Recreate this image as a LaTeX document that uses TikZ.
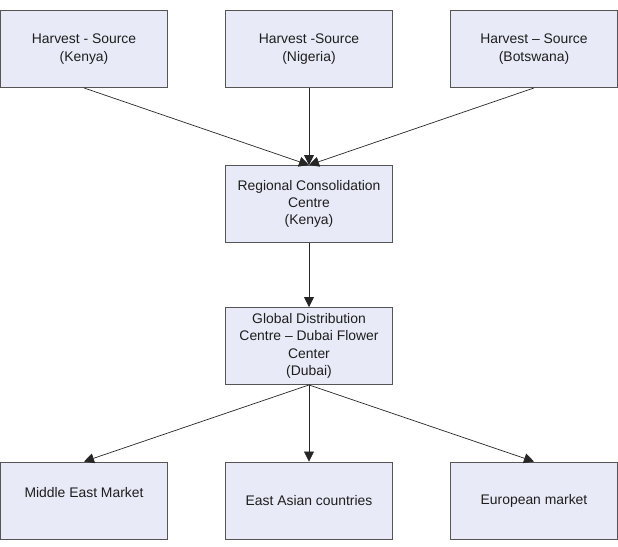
\documentclass[tikz,border=0pt]{standalone}
\usepackage{fontspec}
\setmainfont{Liberation Sans}
\usetikzlibrary{arrows.meta}
\definecolor{boxfill}{RGB}{232,235,247}
\definecolor{boxline}{RGB}{85,85,85}
\definecolor{txt}{RGB}{30,30,30}
\begin{document}
\begin{tikzpicture}[x=1pt,y=-1pt,
  box/.style={draw=boxline,fill=boxfill,line width=0.9pt,minimum width=167pt,minimum height=77pt,
    inner sep=0pt,align=center,text=txt,font=\fontsize{13.9}{17.3}\selectfont},
  arr/.style={-{Triangle[length=10pt,width=10pt]},line width=0.7pt,draw=black!85}]
\useasboundingbox (0,0) rectangle (618,546);
\node[box] (k) at (84,49) {Harvest - Source\\(Kenya)};
\node[box] (n) at (309,49) {Harvest -Source\\(Nigeria)};
\node[box] (b) at (534,49) {Harvest -- Source\\(Botswana)};
\node[box] (r) at (309,204) {Regional Consolidation\\Centre\\(Kenya)};
\node[box] (g) at (309,346) {Global Distribution\\Centre -- Dubai Flower\\Center\\(Dubai)};
\node[box] (m) at (84,500.5) {\raisebox{16pt}{Middle East Market}};
\node[box] (e) at (309,500.5) {East Asian countries};
\node[box] (u) at (534,500.5) {European market};
\draw[arr] (k.south) -- (r.north);
\draw[arr] (n.south) -- (r.north);
\draw[arr] (b.south) -- (r.north);
\draw[arr] (r.south) -- (g.north);
\draw[arr] (g.south) -- (m.north);
\draw[arr] (g.south) -- (e.north);
\draw[arr] (g.south) -- (u.north);
\end{tikzpicture}
\end{document}
